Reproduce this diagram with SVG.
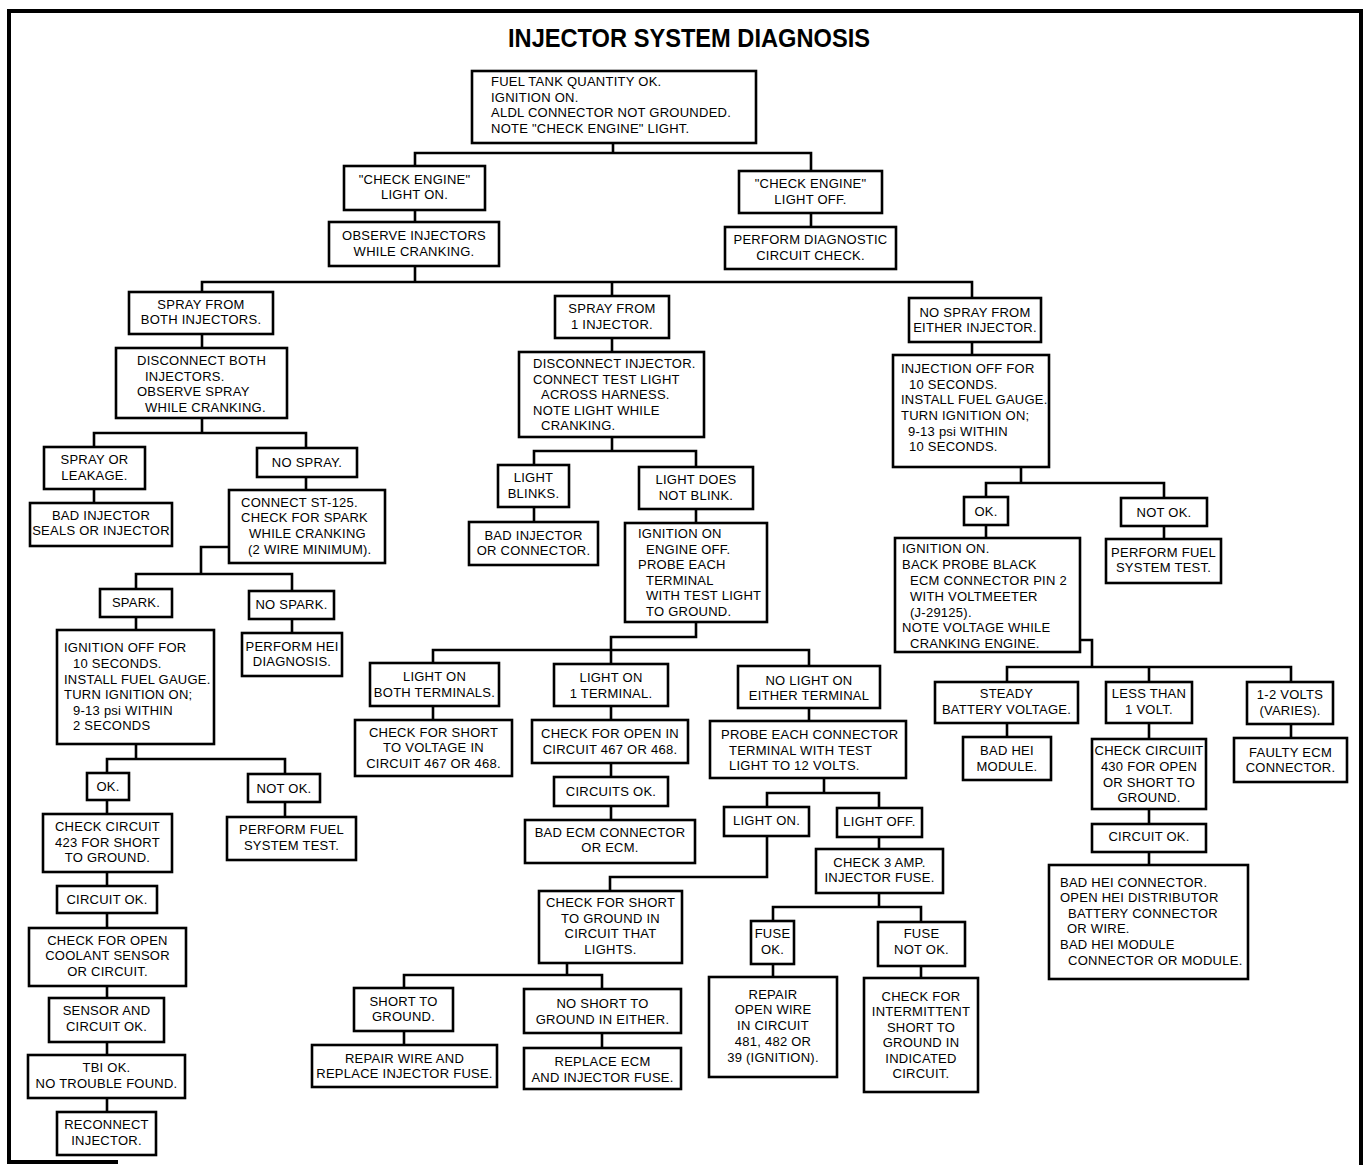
<svg xmlns="http://www.w3.org/2000/svg" width="1364" height="1165" viewBox="0 0 1364 1165">
<style>
.b{fill:#fff;stroke:#000;stroke-width:2.6}
.t{font-family:"Liberation Sans",Arial,sans-serif;font-size:13px;letter-spacing:0.25px;fill:#000}
.m{text-anchor:middle}
.c{fill:none;stroke:#000;stroke-width:2.6}
.f{fill:none;stroke:#000;stroke-width:4}
.h{font-family:"Liberation Sans",Arial,sans-serif;font-size:25px;font-weight:bold;fill:#000;text-anchor:middle}
</style>
<rect width="1364" height="1165" fill="#fff"/>
<path class="f" d="M118,1162 H9 V11 H1361 V1165"/>
<text class="h" x="689" y="47" textLength="362" lengthAdjust="spacingAndGlyphs">INJECTOR SYSTEM DIAGNOSIS</text>
<g id="connectors">
<path class="c" d="M613,143 V153 M415,166 V153 H811 V171"/>
<path class="c" d="M415,210 V222 M811,213 V227"/>
<path class="c" d="M415,266 V282 M202,292 V282 H972 V298 M612,282 V296"/>
<path class="c" d="M202,334 V348"/>
<path class="c" d="M202,418 V433 M94,447 V433 H306 V448"/>
<path class="c" d="M94,489 V503 M306,477 V490"/>
<path class="c" d="M229,547 H201 V574 M136,589 V574 H292 V591"/>
<path class="c" d="M136,617 V630 M292,619 V633"/>
<path class="c" d="M136,744 V759 M107,773 V759 H285 V774"/>
<path class="c" d="M107,800 V814 M285,802 V817 M107,872 V886 M107,913 V928 M107,986 V998 M107,1042 V1055 M107,1098 V1112"/>
<path class="c" d="M612,338 V352"/>
<path class="c" d="M612,437 V451 M534,465 V451 H696 V467"/>
<path class="c" d="M534,507 V522 M696,509 V523"/>
<path class="c" d="M696,622 V637 H611 V650 M433,663 V650 H809 V666 M611,650 V664"/>
<path class="c" d="M433,706 V720 M611,706 V720 M611,763 V777 M611,806 V820 M809,708 V721"/>
<path class="c" d="M824,778 V793 M767,807 V793 H879 V808"/>
<path class="c" d="M767,836 V877 H610 V891 M879,837 V849"/>
<path class="c" d="M879,893 V907 M773,921 V907 H921 V922"/>
<path class="c" d="M773,964 V977 M921,966 V978"/>
<path class="c" d="M567,963 V975 M404,988 V975 H602 V989"/>
<path class="c" d="M404,1031 V1045 M602,1033 V1048"/>
<path class="c" d="M972,342 V355"/>
<path class="c" d="M1021,467 V483 M986,497 V483 H1164 V498"/>
<path class="c" d="M986,525 V538 M1164,526 V539"/>
<path class="c" d="M1080,640 H1092 V667 M1007,682 V667 H1291 V682 M1149,667 V682"/>
<path class="c" d="M1007,723 V737 M1149,723 V739 M1291,724 V738 M1149,809 V824 M1149,852 V865"/>
</g>
<g id="n1"><rect class="b" x="472" y="71" width="284" height="72"/><text class="t"><tspan x="491" y="86">FUEL TANK QUANTITY OK.</tspan><tspan x="491" y="101.5">IGNITION ON.</tspan><tspan x="491" y="117">ALDL CONNECTOR NOT GROUNDED.</tspan><tspan x="491" y="132.5">NOTE "CHECK ENGINE" LIGHT.</tspan></text></g>
<g id="n2"><rect class="b" x="344" y="166" width="141" height="44"/><text class="t m"><tspan x="414.5" y="183.5">"CHECK ENGINE"</tspan><tspan x="414.5" y="199">LIGHT ON.</tspan></text></g>
<g id="n3"><rect class="b" x="739" y="171" width="143" height="42"/><text class="t m"><tspan x="810.5" y="188">"CHECK ENGINE"</tspan><tspan x="810.5" y="203.5">LIGHT OFF.</tspan></text></g>
<g id="n4"><rect class="b" x="329" y="222" width="170" height="44"/><text class="t m"><tspan x="414" y="240">OBSERVE INJECTORS</tspan><tspan x="414" y="255.5">WHILE CRANKING.</tspan></text></g>
<g id="n5"><rect class="b" x="725" y="227" width="171" height="42"/><text class="t m"><tspan x="810.5" y="244">PERFORM DIAGNOSTIC</tspan><tspan x="810.5" y="259.5">CIRCUIT CHECK.</tspan></text></g>
<g id="n6"><rect class="b" x="129" y="292" width="144" height="42"/><text class="t m"><tspan x="201" y="308.5">SPRAY FROM</tspan><tspan x="201" y="324">BOTH INJECTORS.</tspan></text></g>
<g id="n7"><rect class="b" x="116" y="348" width="171" height="70"/><text class="t"><tspan x="137" y="365">DISCONNECT BOTH</tspan><tspan x="145" y="380.6">INJECTORS.</tspan><tspan x="137" y="396.2">OBSERVE SPRAY</tspan><tspan x="145" y="411.8">WHILE CRANKING.</tspan></text></g>
<g id="n8"><rect class="b" x="555" y="296" width="114" height="42"/><text class="t m"><tspan x="612" y="313">SPRAY FROM</tspan><tspan x="612" y="328.6">1 INJECTOR.</tspan></text></g>
<g id="n9"><rect class="b" x="519" y="352" width="185" height="85"/><text class="t"><tspan x="533" y="368">DISCONNECT INJECTOR.</tspan><tspan x="533" y="383.6">CONNECT TEST LIGHT</tspan><tspan x="541" y="399.2">ACROSS HARNESS.</tspan><tspan x="533" y="414.8">NOTE LIGHT WHILE</tspan><tspan x="541" y="430.4">CRANKING.</tspan></text></g>
<g id="n10"><rect class="b" x="909" y="298" width="132" height="44"/><text class="t m"><tspan x="975" y="316.5">NO SPRAY FROM</tspan><tspan x="975" y="332">EITHER INJECTOR.</tspan></text></g>
<g id="n11"><rect class="b" x="893" y="355" width="156" height="112"/><text class="t"><tspan x="901" y="373">INJECTION OFF FOR</tspan><tspan x="909" y="388.7">10 SECONDS.</tspan><tspan x="901" y="404.4">INSTALL FUEL GAUGE.</tspan><tspan x="901" y="420">TURN IGNITION ON;</tspan><tspan x="908" y="435.7">9-13 psi WITHIN</tspan><tspan x="909" y="451.4">10 SECONDS.</tspan></text></g>
<g id="n12"><rect class="b" x="498" y="465" width="71" height="42"/><text class="t m"><tspan x="533.5" y="482">LIGHT</tspan><tspan x="533.5" y="497.6">BLINKS.</tspan></text></g>
<g id="n13"><rect class="b" x="639" y="467" width="114" height="42"/><text class="t m"><tspan x="696" y="484">LIGHT DOES</tspan><tspan x="696" y="499.6">NOT BLINK.</tspan></text></g>
<g id="n14"><rect class="b" x="469" y="522" width="129" height="43"/><text class="t m"><tspan x="533.5" y="539.5">BAD INJECTOR</tspan><tspan x="533.5" y="555">OR CONNECTOR.</tspan></text></g>
<g id="n15"><rect class="b" x="625" y="523" width="142" height="99"/><text class="t"><tspan x="638" y="538">IGNITION ON</tspan><tspan x="646" y="553.6">ENGINE OFF.</tspan><tspan x="638" y="569.2">PROBE EACH</tspan><tspan x="646" y="584.8">TERMINAL</tspan><tspan x="646" y="600.4">WITH TEST LIGHT</tspan><tspan x="646" y="616">TO GROUND.</tspan></text></g>
<g id="n16"><rect class="b" x="44" y="447" width="101" height="42"/><text class="t m"><tspan x="94.5" y="464">SPRAY OR</tspan><tspan x="94.5" y="479.6">LEAKAGE.</tspan></text></g>
<g id="n17"><rect class="b" x="30" y="503" width="142" height="43"/><text class="t m"><tspan x="101" y="519.5">BAD INJECTOR</tspan><tspan x="101" y="535.2">SEALS OR INJECTOR</tspan></text></g>
<g id="n18"><rect class="b" x="257" y="448" width="100" height="29"/><text class="t m"><tspan x="307" y="466.5">NO SPRAY.</tspan></text></g>
<g id="n19"><rect class="b" x="229" y="490" width="156" height="73"/><text class="t"><tspan x="241" y="506.7">CONNECT ST-125.</tspan><tspan x="241" y="522.3">CHECK FOR SPARK</tspan><tspan x="249" y="537.9">WHILE CRANKING</tspan><tspan x="248" y="553.5">(2 WIRE MINIMUM).</tspan></text></g>
<g id="n20"><rect class="b" x="100" y="589" width="72" height="28"/><text class="t m"><tspan x="136" y="606.5">SPARK.</tspan></text></g>
<g id="n21"><rect class="b" x="249" y="591" width="85" height="28"/><text class="t m"><tspan x="291.5" y="608.5">NO SPARK.</tspan></text></g>
<g id="n22"><rect class="b" x="242" y="633" width="100" height="43"/><text class="t m"><tspan x="292" y="650.5">PERFORM HEI</tspan><tspan x="292" y="666">DIAGNOSIS.</tspan></text></g>
<g id="n23"><rect class="b" x="57" y="630" width="157" height="114"/><text class="t"><tspan x="64" y="652.3">IGNITION OFF FOR</tspan><tspan x="73" y="668">10 SECONDS.</tspan><tspan x="64" y="683.5">INSTALL FUEL GAUGE.</tspan><tspan x="64" y="699">TURN IGNITION ON;</tspan><tspan x="73" y="714.7">9-13 psi WITHIN</tspan><tspan x="73" y="730.3">2 SECONDS</tspan></text></g>
<g id="n24"><rect class="b" x="87" y="773" width="42" height="27"/><text class="t m"><tspan x="108" y="791">OK.</tspan></text></g>
<g id="n25"><rect class="b" x="248" y="774" width="72" height="28"/><text class="t m"><tspan x="284" y="793">NOT OK.</tspan></text></g>
<g id="n26"><rect class="b" x="43" y="814" width="129" height="58"/><text class="t m"><tspan x="107.5" y="831">CHECK CIRCUIT</tspan><tspan x="107.5" y="846.5">423 FOR SHORT</tspan><tspan x="107.5" y="862">TO GROUND.</tspan></text></g>
<g id="n27"><rect class="b" x="227" y="817" width="129" height="43"/><text class="t m"><tspan x="291.5" y="834.3">PERFORM FUEL</tspan><tspan x="291.5" y="850">SYSTEM TEST.</tspan></text></g>
<g id="n28"><rect class="b" x="57" y="886" width="100" height="27"/><text class="t m"><tspan x="107" y="904">CIRCUIT OK.</tspan></text></g>
<g id="n29"><rect class="b" x="29" y="928" width="157" height="58"/><text class="t m"><tspan x="107.5" y="944.5">CHECK FOR OPEN</tspan><tspan x="107.5" y="960">COOLANT SENSOR</tspan><tspan x="107.5" y="976">OR CIRCUIT.</tspan></text></g>
<g id="n30"><rect class="b" x="49" y="998" width="115" height="44"/><text class="t m"><tspan x="106.5" y="1015">SENSOR AND</tspan><tspan x="106.5" y="1031">CIRCUIT OK.</tspan></text></g>
<g id="n31"><rect class="b" x="28" y="1055" width="157" height="43"/><text class="t m"><tspan x="106.5" y="1072.3">TBI OK.</tspan><tspan x="106.5" y="1087.7">NO TROUBLE FOUND.</tspan></text></g>
<g id="n32"><rect class="b" x="57" y="1112" width="99" height="43"/><text class="t m"><tspan x="106.5" y="1129.3">RECONNECT</tspan><tspan x="106.5" y="1145">INJECTOR.</tspan></text></g>
<g id="n33"><rect class="b" x="370" y="663" width="129" height="43"/><text class="t m"><tspan x="434.5" y="681">LIGHT ON</tspan><tspan x="434.5" y="696.8">BOTH TERMINALS.</tspan></text></g>
<g id="n34"><rect class="b" x="355" y="720" width="157" height="56"/><text class="t m"><tspan x="433.5" y="736.7">CHECK FOR SHORT</tspan><tspan x="433.5" y="752.3">TO VOLTAGE IN</tspan><tspan x="433.5" y="767.7">CIRCUIT 467 OR 468.</tspan></text></g>
<g id="n35"><rect class="b" x="554" y="664" width="114" height="42"/><text class="t m"><tspan x="611" y="682.3">LIGHT ON</tspan><tspan x="611" y="698">1 TERMINAL.</tspan></text></g>
<g id="n36"><rect class="b" x="738" y="666" width="142" height="42"/><text class="t m"><tspan x="809" y="685">NO LIGHT ON</tspan><tspan x="809" y="700">EITHER TERMINAL</tspan></text></g>
<g id="n37"><rect class="b" x="532" y="720" width="156" height="43"/><text class="t m"><tspan x="610" y="738.3">CHECK FOR OPEN IN</tspan><tspan x="610" y="754">CIRCUIT 467 OR 468.</tspan></text></g>
<g id="n38"><rect class="b" x="710" y="721" width="196" height="57"/><text class="t"><tspan x="721" y="739">PROBE EACH CONNECTOR</tspan><tspan x="729" y="755">TERMINAL WITH TEST</tspan><tspan x="729" y="770">LIGHT TO 12 VOLTS.</tspan></text></g>
<g id="n39"><rect class="b" x="554" y="777" width="114" height="29"/><text class="t m"><tspan x="611" y="795.7">CIRCUITS OK.</tspan></text></g>
<g id="n40"><rect class="b" x="525" y="820" width="170" height="43"/><text class="t m"><tspan x="610" y="836.7">BAD ECM CONNECTOR</tspan><tspan x="610" y="852.3">OR ECM.</tspan></text></g>
<g id="n41"><rect class="b" x="724" y="807" width="85" height="29"/><text class="t m"><tspan x="766.5" y="825">LIGHT ON.</tspan></text></g>
<g id="n42"><rect class="b" x="837" y="808" width="85" height="29"/><text class="t m"><tspan x="879.5" y="825.5">LIGHT OFF.</tspan></text></g>
<g id="n43"><rect class="b" x="539" y="891" width="143" height="72"/><text class="t m"><tspan x="610.5" y="907.3">CHECK FOR SHORT</tspan><tspan x="610.5" y="922.7">TO GROUND IN</tspan><tspan x="610.5" y="938.3">CIRCUIT THAT</tspan><tspan x="610.5" y="954">LIGHTS.</tspan></text></g>
<g id="n44"><rect class="b" x="816" y="849" width="127" height="44"/><text class="t m"><tspan x="879.5" y="866.7">CHECK 3 AMP.</tspan><tspan x="879.5" y="882.3">INJECTOR FUSE.</tspan></text></g>
<g id="n45"><rect class="b" x="751" y="921" width="43" height="43"/><text class="t m"><tspan x="772.5" y="938.3">FUSE</tspan><tspan x="772.5" y="954.3">OK.</tspan></text></g>
<g id="n46"><rect class="b" x="878" y="922" width="87" height="44"/><text class="t m"><tspan x="921.5" y="938">FUSE</tspan><tspan x="921.5" y="954">NOT OK.</tspan></text></g>
<g id="n47"><rect class="b" x="709" y="977" width="128" height="100"/><text class="t m"><tspan x="773" y="999">REPAIR</tspan><tspan x="773" y="1014.3">OPEN WIRE</tspan><tspan x="773" y="1030">IN CIRCUIT</tspan><tspan x="773" y="1045.7">481, 482 OR</tspan><tspan x="773" y="1061.5">39 (IGNITION).</tspan></text></g>
<g id="n48"><rect class="b" x="864" y="978" width="114" height="114"/><text class="t m"><tspan x="921" y="1000.7">CHECK FOR</tspan><tspan x="921" y="1016">INTERMITTENT</tspan><tspan x="921" y="1031.7">SHORT TO</tspan><tspan x="921" y="1047.3">GROUND IN</tspan><tspan x="921" y="1063">INDICATED</tspan><tspan x="921" y="1078.3">CIRCUIT.</tspan></text></g>
<g id="n49"><rect class="b" x="354" y="988" width="99" height="43"/><text class="t m"><tspan x="403.5" y="1005.7">SHORT TO</tspan><tspan x="403.5" y="1021">GROUND.</tspan></text></g>
<g id="n50"><rect class="b" x="524" y="989" width="157" height="44"/><text class="t m"><tspan x="602.5" y="1008">NO SHORT TO</tspan><tspan x="602.5" y="1024">GROUND IN EITHER.</tspan></text></g>
<g id="n51"><rect class="b" x="312" y="1045" width="185" height="42"/><text class="t m"><tspan x="404.5" y="1062.7">REPAIR WIRE AND</tspan><tspan x="404.5" y="1078.3">REPLACE INJECTOR FUSE.</tspan></text></g>
<g id="n52"><rect class="b" x="524" y="1048" width="157" height="41"/><text class="t m"><tspan x="602.5" y="1065.7">REPLACE ECM</tspan><tspan x="602.5" y="1081.7">AND INJECTOR FUSE.</tspan></text></g>
<g id="n53"><rect class="b" x="964" y="497" width="44" height="28"/><text class="t m"><tspan x="986" y="516">OK.</tspan></text></g>
<g id="n54"><rect class="b" x="1121" y="498" width="86" height="28"/><text class="t m"><tspan x="1164" y="516.5">NOT OK.</tspan></text></g>
<g id="n55"><rect class="b" x="1106" y="539" width="115" height="44"/><text class="t m"><tspan x="1163.5" y="556.7">PERFORM FUEL</tspan><tspan x="1163.5" y="572.3">SYSTEM TEST.</tspan></text></g>
<g id="n56"><rect class="b" x="895" y="538" width="185" height="114"/><text class="t"><tspan x="902" y="553.3">IGNITION ON.</tspan><tspan x="902" y="569.3">BACK PROBE BLACK</tspan><tspan x="910" y="585">ECM CONNECTOR PIN 2</tspan><tspan x="910" y="600.7">WITH VOLTMEETER</tspan><tspan x="910" y="616.5">(J-29125).</tspan><tspan x="902" y="632">NOTE VOLTAGE WHILE</tspan><tspan x="910" y="647.5">CRANKING ENGINE.</tspan></text></g>
<g id="n57"><rect class="b" x="935" y="682" width="143" height="41"/><text class="t m"><tspan x="1006.5" y="698.3">STEADY</tspan><tspan x="1006.5" y="714">BATTERY VOLTAGE.</tspan></text></g>
<g id="n58"><rect class="b" x="1106" y="682" width="86" height="41"/><text class="t m"><tspan x="1149" y="698.3">LESS THAN</tspan><tspan x="1149" y="714">1 VOLT.</tspan></text></g>
<g id="n59"><rect class="b" x="1247" y="682" width="86" height="42"/><text class="t m"><tspan x="1290" y="699">1-2 VOLTS</tspan><tspan x="1290" y="715">(VARIES).</tspan></text></g>
<g id="n60"><rect class="b" x="963" y="737" width="88" height="43"/><text class="t m"><tspan x="1007" y="755">BAD HEI</tspan><tspan x="1007" y="770.7">MODULE.</tspan></text></g>
<g id="n61"><rect class="b" x="1092" y="739" width="114" height="70"/><text class="t m"><tspan x="1149" y="755">CHECK CIRCUIIT</tspan><tspan x="1149" y="770.7">430 FOR OPEN</tspan><tspan x="1149" y="786.5">OR SHORT TO</tspan><tspan x="1149" y="802">GROUND.</tspan></text></g>
<g id="n62"><rect class="b" x="1234" y="738" width="113" height="44"/><text class="t m"><tspan x="1290.5" y="756.7">FAULTY ECM</tspan><tspan x="1290.5" y="772.3">CONNECTOR.</tspan></text></g>
<g id="n63"><rect class="b" x="1092" y="824" width="114" height="28"/><text class="t m"><tspan x="1149" y="841">CIRCUIT OK.</tspan></text></g>
<g id="n64"><rect class="b" x="1049" y="865" width="199" height="114"/><text class="t"><tspan x="1060" y="886.7">BAD HEI CONNECTOR.</tspan><tspan x="1060" y="902.3">OPEN HEI DISTRIBUTOR</tspan><tspan x="1068" y="917.7">BATTERY CONNECTOR</tspan><tspan x="1067" y="933.3">OR WIRE.</tspan><tspan x="1060" y="949">BAD HEI MODULE</tspan><tspan x="1068" y="965">CONNECTOR OR MODULE.</tspan></text></g>
</svg>
